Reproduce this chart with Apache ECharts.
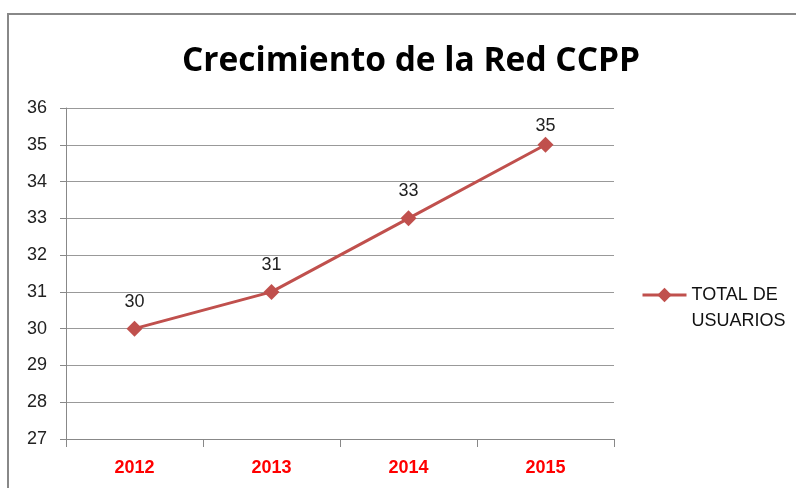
<!DOCTYPE html>
<html><head><meta charset="utf-8">
<script src="https://cdn.jsdelivr.net/npm/echarts@6/dist/echarts.min.js"></script>
<style>html,body{margin:0;padding:0;background:#fff}#c{width:796px;height:488px}</style>
</head><body><div id="c"></div>
<script>
const titleText = 'Crecimiento de la Red CCPP';
const categories = ['2012', '2013', '2014', '2015'];
const seriesName = 'TOTAL DE\nUSUARIOS';
const values = [30, 31, 33, 35];
const yMin = 27, yMax = 36, yStep = 1;

const chart = echarts.init(document.getElementById('c'), null, {renderer: 'canvas'});
chart.setOption({
  animation: false,
  backgroundColor: '#fff',
  graphic: [{
    type: 'rect', shape: {x: 8, y: 14, width: 800, height: 490},
    style: {fill: 'none', stroke: '#888', lineWidth: 2}, silent: true
  }],
  title: {
    text: titleText, left: 406, textAlign: 'center', top: 39,
    textStyle: {fontFamily: 'Open Sans', fontWeight: 'bold', fontSize: 33.5, color: '#000'}
  },
  legend: {
    left: 636, top: 251, orient: 'vertical',
    itemWidth: 44, itemHeight: 18, itemGap: 4,
    lineStyle: {width: 3, color: '#c0504d'},
    formatter: function (n) { return ' \n' + n; },
    textStyle: {fontFamily: 'Liberation Sans, Arial', fontSize: 18, color: '#111', lineHeight: 26},
    data: [{name: seriesName}]
  },
  grid: {left: 66, right: 182, top: 108, bottom: 49, containLabel: false},
  xAxis: {
    type: 'category', data: categories, boundaryGap: true,
    axisLine: {lineStyle: {color: '#888', width: 1}},
    axisTick: {show: true, length: 8, lineStyle: {color: '#888'}},
    axisLabel: {margin: 20, color: '#ff0000', fontWeight: 'bold', fontSize: 18, fontFamily: 'Liberation Sans, Arial'}
  },
  yAxis: {
    type: 'value', min: yMin, max: yMax, interval: yStep,
    axisLine: {show: true, lineStyle: {color: '#888', width: 1}},
    axisTick: {show: true, length: 6, lineStyle: {color: '#888'}},
    axisLabel: {margin: 19, color: '#222', fontSize: 18, fontFamily: 'Liberation Sans, Arial'},
    splitLine: {show: true, lineStyle: {color: '#999', width: 1}}
  },
  series: [{
    name: seriesName, type: 'line', data: values,
    symbol: 'diamond', symbolSize: 16,
    lineStyle: {color: '#c0504d', width: 3},
    itemStyle: {color: '#c0504d'},
    label: {show: true, position: 'top', distance: 10, color: '#222', fontSize: 18, fontFamily: 'Liberation Sans, Arial'},
    labelLayout: function (p) {
      const minTop = 117;
      if (p.labelRect.y < minTop) { return {dy: minTop - p.labelRect.y}; }
      return {};
    }
  }]
});
</script></body></html>
